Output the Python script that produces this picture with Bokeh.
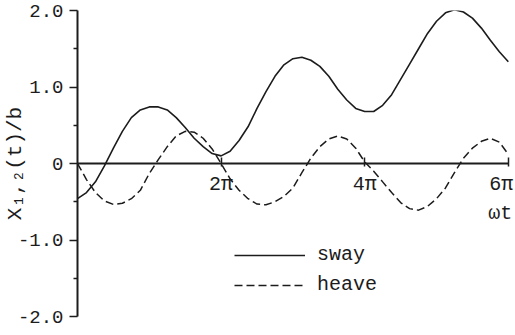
from bokeh.plotting import figure
from bokeh.models import FixedTicker, Label, Legend, LegendItem, Range1d, LinearAxis
from bokeh.embed import file_html
from bokeh.resources import INLINE

# omega*t in units of pi
t_pi = [0.0, 0.125, 0.25, 0.375, 0.5, 0.625, 0.75, 0.875,
        1.0, 1.125, 1.25, 1.375, 1.5, 1.625, 1.75, 1.875,
        2.0, 2.125, 2.25, 2.375, 2.5, 2.625, 2.75, 2.875,
        3.0, 3.125, 3.25, 3.375, 3.5, 3.625, 3.75, 3.875,
        4.0, 4.125, 4.25, 4.375, 4.5, 4.625, 4.75, 4.875,
        5.0, 5.125, 5.25, 5.375, 5.5, 5.625, 5.75, 5.875, 6.0]

sway = [-0.46, -0.38, -0.24, -0.03, 0.20, 0.42, 0.60, 0.70,
        0.74, 0.74, 0.70, 0.60, 0.47, 0.33, 0.22, 0.13,
        0.10, 0.16, 0.30, 0.48, 0.72, 0.94, 1.14, 1.29,
        1.37, 1.39, 1.35, 1.27, 1.14, 0.97, 0.83, 0.72,
        0.68, 0.68, 0.76, 0.90, 1.10, 1.30, 1.50, 1.70,
        1.86, 1.97, 2.01, 1.98, 1.90, 1.77, 1.61, 1.46, 1.33]

heave = [0.00, -0.21, -0.38, -0.49, -0.535, -0.52, -0.46, -0.35,
         -0.13, 0.05, 0.22, 0.36, 0.42, 0.41, 0.33, 0.19,
         0.00, -0.20, -0.35, -0.46, -0.53, -0.54, -0.50, -0.43,
         -0.32, -0.12, 0.07, 0.22, 0.32, 0.36, 0.32, 0.20,
         0.02, -0.10, -0.24, -0.38, -0.51, -0.59, -0.61, -0.56,
         -0.46, -0.32, -0.12, 0.07, 0.20, 0.29, 0.33, 0.28, 0.12]

ytick_vals = [-2, -1, 0, 1, 2]
ytick_labels = ["-2.0", "-1.0", "0", "1.0", "2.0"]
yminor_vals = [-1.5, -0.5, 0.5, 1.5]
xtick_vals = [2, 4, 6]
xtick_labels = ["2π", "4π", "6π"]
series_names = ["sway", "heave"]
y_title = "X₁,₂(t)/b"
x_title = "ωt"

FONT = "Liberation Mono"
INK = "#1c1c1c"

p = figure(width=515, height=335, output_backend="svg", toolbar_location=None,
           x_range=Range1d(0, 6.1), y_range=Range1d(-2, 2),
           x_axis_location=None, y_axis_location=None,
           min_border_left=77, min_border_right=0, min_border_top=10,
           min_border_bottom=19)
p.outline_line_color = None
p.background_fill_color = "white"
p.grid.visible = False

yaxis = LinearAxis(ticker=FixedTicker(ticks=ytick_vals, minor_ticks=yminor_vals),
                   major_label_overrides={v: s for v, s in zip(ytick_vals, ytick_labels)},
                   bounds=(-2, 2), axis_line_width=2, axis_line_color=INK,
                   major_tick_out=8, major_tick_in=0, major_tick_line_width=1.5,
                   major_tick_line_color=INK,
                   minor_tick_out=4, minor_tick_in=0, minor_tick_line_width=1.5,
                   minor_tick_line_color=INK,
                   major_label_text_color=INK, major_label_text_font=FONT,
                   major_label_text_font_size="19px", major_label_standoff=6,
                   axis_label=y_title, axis_label_text_font=FONT,
                   axis_label_text_font_size="21px",
                   axis_label_text_font_style="normal",
                   axis_label_text_color=INK, axis_label_standoff=-12)
p.add_layout(yaxis, "left")

xaxis = LinearAxis(ticker=FixedTicker(ticks=xtick_vals), bounds=(0, 6),
                   fixed_location=0, axis_line_width=2, axis_line_color=INK,
                   major_tick_in=6, major_tick_out=3, major_tick_line_width=1.5,
                   major_tick_line_color=INK, minor_tick_line_color=None,
                   major_label_text_color=None, major_label_text_font_size="1px",
                   major_label_standoff=0)
p.add_layout(xaxis, "below")

r_sway = p.line(t_pi, sway, line_width=1.6, line_color=INK)
r_heave = p.line(t_pi, heave, line_width=1.5, line_color=INK, line_dash="8 4")

# x tick labels
for v, s in zip(xtick_vals, xtick_labels):
    align = "right" if v == max(xtick_vals) else "center"
    xoff = 5 if v == max(xtick_vals) else 0
    p.add_layout(Label(x=v, y=0, text=s, x_offset=xoff, y_offset=-9,
                       text_align=align, text_baseline="top",
                       text_font=FONT, text_font_size="20px", text_color=INK))

p.add_layout(Label(x=6, y=0, text=x_title, x_offset=4, y_offset=-50,
                   text_align="right", text_baseline="middle",
                   text_font=FONT, text_font_size="20px", text_color=INK))

legend = Legend(items=[LegendItem(label=series_names[0], renderers=[r_sway]),
                       LegendItem(label=series_names[1], renderers=[r_heave])],
                location=(157, 20), glyph_width=71, glyph_height=20,
                label_height=20, label_standoff=12, spacing=7, padding=0,
                margin=0, border_line_color=None, background_fill_alpha=0,
                label_text_font=FONT, label_text_font_size="20px",
                label_text_color=INK)
p.add_layout(legend)

open("out.html", "w").write(file_html(p, INLINE))
